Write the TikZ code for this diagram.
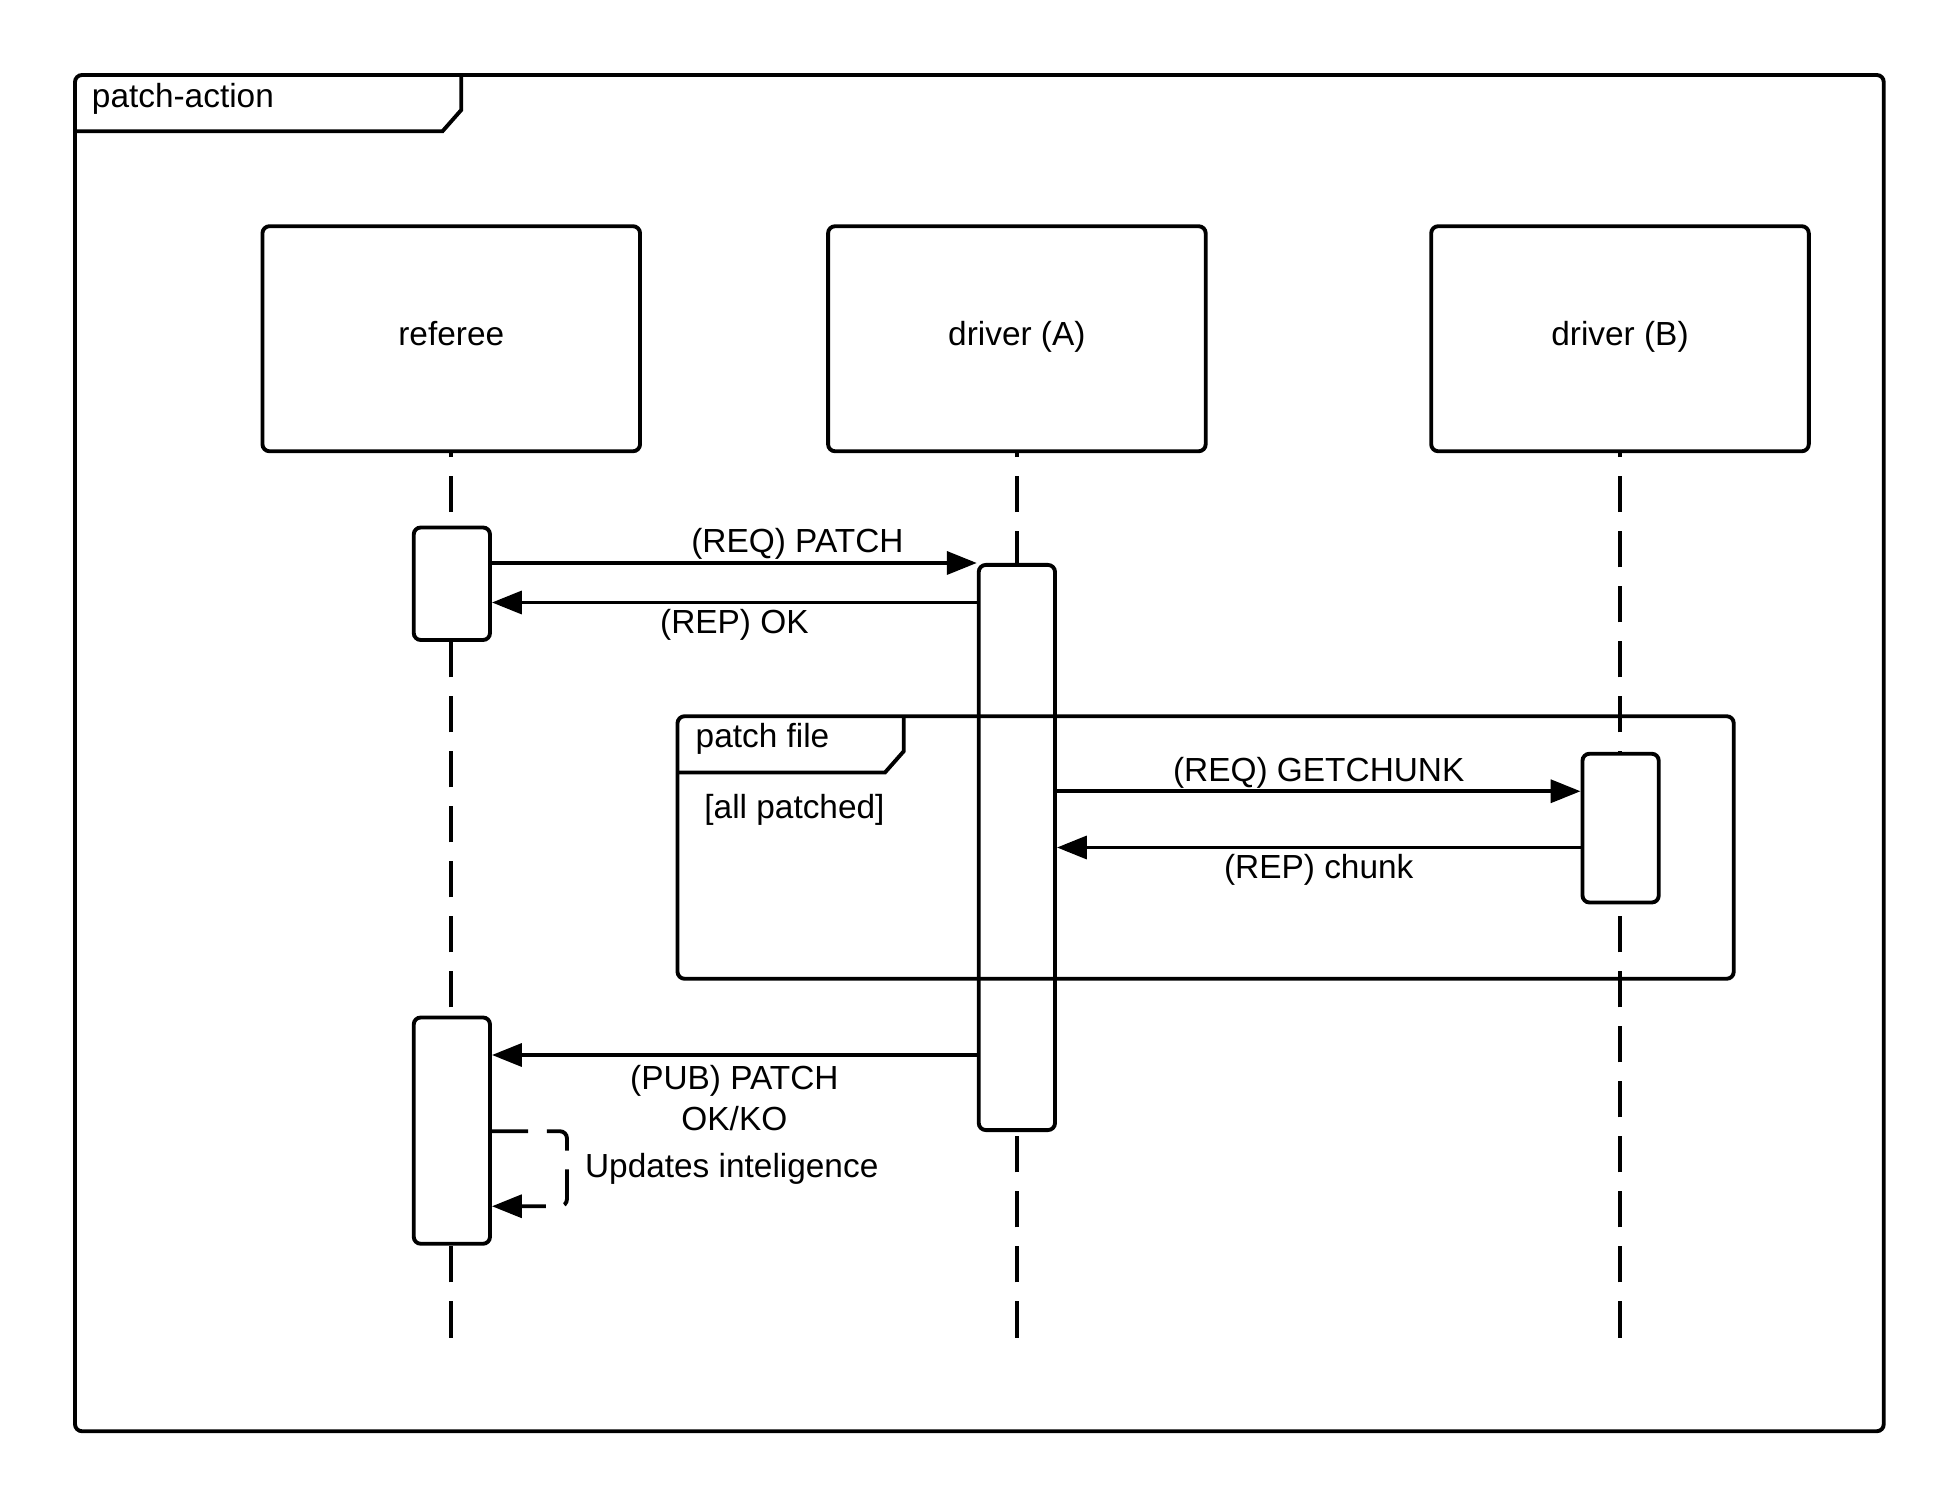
\documentclass[tikz,border=0pt]{standalone}
\usepackage{fontspec}
\setmainfont{Liberation Sans}
\usetikzlibrary{arrows.meta}

\begin{document}
\begin{tikzpicture}[x=0.025cm, y=-0.025cm, line width=2.2pt,
  font=\fontsize{19}{23.5}\selectfont,
  head/.style={draw, rounded corners=4pt, minimum width=75.5mm, minimum height=45mm, text height=13.6pt, text depth=5.8pt},
  act/.style={draw, fill=white, rounded corners=4pt, minimum width=15.25mm},
  life/.style={dash pattern=on 20.6pt off 10.7pt},
  msg/.style={-{Triangle[length=17pt, width=13pt]}},
  lbl/.style={inner sep=0pt}]

\useasboundingbox (0,0) rectangle (1560,1200);

\draw [rounded corners=4pt] (60,60) rectangle (1507,1145);
\draw (60,105) -- (354,105) -- (369,88) -- (369,60);
\node [lbl, anchor=west] (frameName) at (72,79) {patch-action};

\node [head] (referee) at (361,271) {referee};
\node [head] (drvA) at (813.5,271) {driver (A)};
\node [head] (drvB) at (1296,271) {driver (B)};

\coordinate (lifeEnd) at (0,1070);
\draw [life] (referee.south |- lifeEnd) -- (referee.south);
\draw [life] (drvA.south |- lifeEnd) -- (drvA.south);
\draw [life] (drvB.south |- lifeEnd) -- (drvB.south);

\node [act, minimum height=22.5mm] (refAct) at (361.5,467) {};
\node [act, minimum height=45.25mm] (refPub) at (361.5,904.5) {};
\node [act, minimum height=113mm] (drvAAct) at (813.5,678) {};
\node [act, minimum height=29.75mm] (drvBAct) at (1296.5,662.5) {};

\coordinate (okY) at (0,482);
\coordinate (getY) at (0,633);
\coordinate (pubY) at (0,844);
\coordinate (selfY) at (0,905);
\coordinate (selfEnd) at (0,965);

\draw [msg] (refAct.east |- drvAAct.north) -- (drvAAct.north west) node [lbl, pos=.63, yshift=10.7pt] {(REQ) PATCH};
\draw [msg] (drvAAct.west |- okY) -- (refAct.east |- okY) node [lbl, midway, yshift=-12.8pt] {(REP) OK};
\draw [msg] (drvAAct.east |- getY) -- (drvBAct.west |- getY) node [lbl, midway, yshift=10.7pt] {(REQ) GETCHUNK};
\draw [msg] (drvBAct.west |- drvAAct.east) -- (drvAAct.east) node [lbl, midway, yshift=-12.8pt] {(REP) chunk};
\draw [msg] (drvAAct.west |- pubY) -- (refPub.east |- pubY) node [lbl, midway, yshift=-24.5pt, align=center] {(PUB) PATCH\\OK/KO};
\draw [msg, life, rounded corners=4pt] (refPub.east |- selfY) -| ([xshift=60*0.25mm]refPub.east |- selfEnd) node [lbl, pos=.75, anchor=west, xshift=9.2pt] {Updates inteligence} -- (refPub.east |- selfEnd);

\draw [rounded corners=4pt] (542,573) rectangle (1387,783);
\draw (542,618) -- (708,618) -- (723,601) -- (723,573);
\node [lbl, anchor=west] (fragName) at (555,591) {patch file};
\node [lbl, anchor=west] (fragGuard) at (562,648) {[all patched]};

\end{tikzpicture}
\end{document}
